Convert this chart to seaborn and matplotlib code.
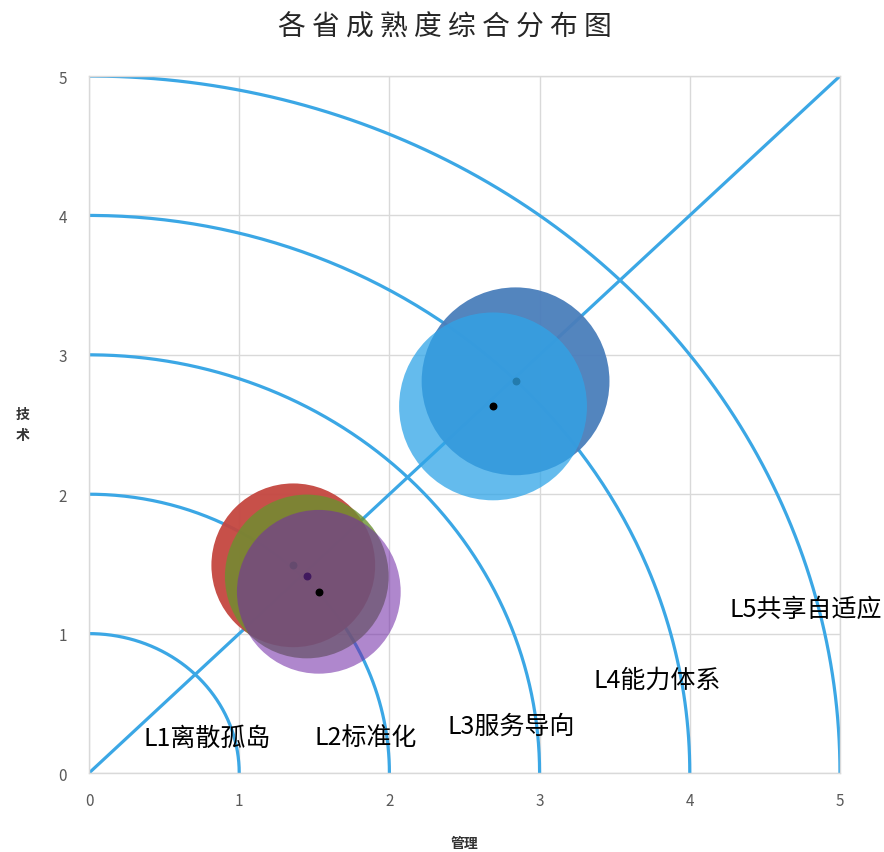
import numpy as np
import pandas as pd
import seaborn as sns
import matplotlib.pyplot as plt

# 数据: 各省 管理/技术 得分
省份 = ['A', 'B', 'C', 'D', 'E']
管理 = [1.36, 1.45, 1.53, 2.84, 2.69]
技术 = [1.49, 1.41, 1.30, 2.81, 2.63]
规模 = [7.6, 7.6, 7.6, 10.0, 10.0]

等级 = ['L1离散孤岛', 'L2标准化', 'L3服务导向', 'L4能力体系', 'L5共享自适应']
等级_x = [0.79, 1.84, 2.81, 3.78, 4.77]
等级_y = [0.25, 0.25, 0.34, 0.67, 1.18]
刻度 = [0, 1, 2, 3, 4, 5]

df = pd.DataFrame({'省份': 省份, '管理': 管理, '技术': 技术, '规模': 规模})

# 颜色和透明度
颜色 = ['#c4463f', '#6b912f', '#722ca7', '#4a7ebb', '#30a5e8']
透明度 = [0.95, 0.8, 0.57, 0.95, 0.75]
线色 = '#3ba7e5'

sns.set_style('white')
plt.rcParams['font.family'] = ['Noto Sans CJK SC', 'DejaVu Sans']

fig = plt.figure(figsize=(8.84, 8.53), dpi=100)
ax = fig.add_axes([0.1007, 0.0926, 0.8495, 0.8171])

# 网格
ax.set_xlim(0, 5)
ax.set_ylim(0, 5)
ax.set_xticks(刻度)
ax.set_yticks(刻度)
ax.grid(True, color='#d9d9d9', lw=1)
for s in ax.spines.values():
    s.set_color('#d9d9d9')
    s.set_linewidth(1)

# 等级圆弧和对角线
t = np.linspace(0, np.pi / 2, 200)
for r in 刻度[1:]:
    ax.plot(r * np.cos(t), r * np.sin(t), color=线色, lw=2.3, zorder=2)
ax.plot([0, 5], [0, 5], color=线色, lw=2.3, zorder=2)

# 气泡 (每个气泡后画中心点)
k = 13900 / 7.6
for i, row in df.iterrows():
    sns.scatterplot(x=[row['管理']], y=[row['技术']], s=row['规模'] * k,
                    color=颜色[i], alpha=透明度[i], edgecolor='none',
                    ax=ax, zorder=3 + i * 2, legend=False)
    ax.scatter(row['管理'], row['技术'], s=22, color='black', zorder=4 + i * 2)

# 等级标签
for txt, x, y in zip(等级, 等级_x, 等级_y):
    ax.text(x, y, txt, fontsize=18, ha='center', va='center', color='black',
            zorder=20, clip_on=False)

ax.tick_params(axis='x', length=0, pad=14, labelsize=11, labelcolor='#595959')
ax.tick_params(axis='y', length=0, pad=16, labelsize=11, labelcolor='#595959')

ax.set_xlabel('管理', fontsize=10, fontweight='bold', color='#333333', labelpad=19)
ax.set_ylabel('技\n术', fontsize=10, fontweight='bold', color='#333333',
              rotation=0, va='center', linespacing=1.6)
ax.yaxis.set_label_coords(-0.089, 0.5)

fig.text(0.503, 0.968, '各 省 成 熟 度 综 合 分 布 图', fontsize=20, ha='center', va='center',
         color='#262626')

fig.savefig('out.png', dpi=100)
